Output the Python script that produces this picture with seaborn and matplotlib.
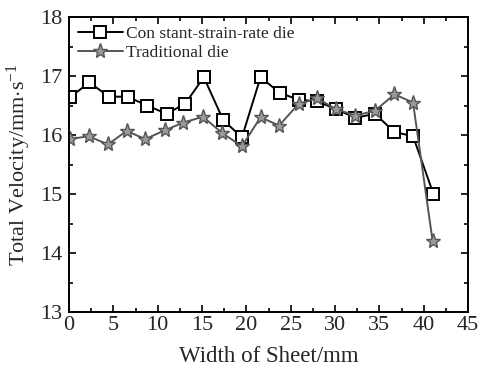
import pandas as pd
import matplotlib.pyplot as plt
import seaborn as sns
from matplotlib.ticker import MultipleLocator

# Data
width_csr = [0.1, 2.3, 4.5, 6.6, 8.8, 11.0, 13.1, 15.2, 17.4, 19.5,
             21.6, 23.8, 25.9, 28.0, 30.1, 32.3, 34.5, 36.7, 38.8, 41.1]
vel_csr = [16.64, 16.89, 16.65, 16.65, 16.50, 16.36, 16.53, 16.98, 16.25, 15.96,
           16.98, 16.71, 16.60, 16.57, 16.44, 16.29, 16.36, 16.05, 15.98, 15.00]

width_trad = [0.1, 2.2, 4.4, 6.5, 8.6, 10.8, 12.9, 15.1, 17.3, 19.5,
              21.6, 23.7, 25.9, 28.0, 30.1, 32.3, 34.5, 36.7, 38.8, 41.0]
vel_trad = [15.93, 15.98, 15.84, 16.07, 15.93, 16.08, 16.21, 16.31, 16.03, 15.81,
            16.30, 16.16, 16.53, 16.62, 16.44, 16.33, 16.41, 16.69, 16.55, 14.21]

sns.set_style("ticks")
plt.rcParams['font.family'] = ['Liberation Serif', 'DejaVu Serif']
plt.rcParams['mathtext.fontset'] = 'custom'
plt.rcParams['mathtext.rm'] = 'Liberation Serif'
plt.rcParams['mathtext.it'] = 'Liberation Serif:italic'

fig = plt.figure(figsize=(4.78, 3.78), dpi=100)
ax = fig.add_axes([0.1444, 0.1746, 0.8347, 0.7804])

df_csr = pd.DataFrame({'x': width_csr, 'y': vel_csr})
df_trad = pd.DataFrame({'x': width_trad, 'y': vel_trad})

sns.lineplot(data=df_csr, x='x', y='y', ax=ax, color='black', lw=1.4,
             marker='s', markersize=8, markerfacecolor='white',
             markeredgecolor='black', markeredgewidth=1.4,
             label='Con stant-strain-rate die', sort=False)
sns.lineplot(data=df_trad, x='x', y='y', ax=ax, color='#555555', lw=1.4,
             marker='*', markersize=11, markerfacecolor='#9a9a9a',
             markeredgecolor='#555555', markeredgewidth=1.0,
             label='Traditional die', sort=False)

ax.set_xlim(0, 45)
ax.set_ylim(13, 18)
ax.xaxis.set_major_locator(MultipleLocator(5))
ax.xaxis.set_minor_locator(MultipleLocator(2.5))
ax.yaxis.set_major_locator(MultipleLocator(1))
ax.yaxis.set_minor_locator(MultipleLocator(0.5))
ax.tick_params(which='both', direction='in', top=True, right=True,
               labelsize=16, width=1.2, color='black')
ax.tick_params(which='major', length=5)
ax.tick_params(which='minor', length=3)
ax.tick_params(axis='x', pad=3)
ax.tick_params(axis='y', pad=5)
for s in ax.spines.values():
    s.set_linewidth(1.4)
    s.set_color('black')

ax.set_xlabel('Width of Sheet/mm', fontsize=16.5, labelpad=8)
ax.set_ylabel('Total Velocity/mm$\\cdot$s$^{\\mathregular{-1}}$', fontsize=16, labelpad=5)

ax.legend(loc='upper left', frameon=False, fontsize=12.5, handlelength=2.6,
          handletextpad=0.2, labelspacing=0.2, borderaxespad=0.2,
          borderpad=0.3)

plt.savefig('out.png', dpi=100)
